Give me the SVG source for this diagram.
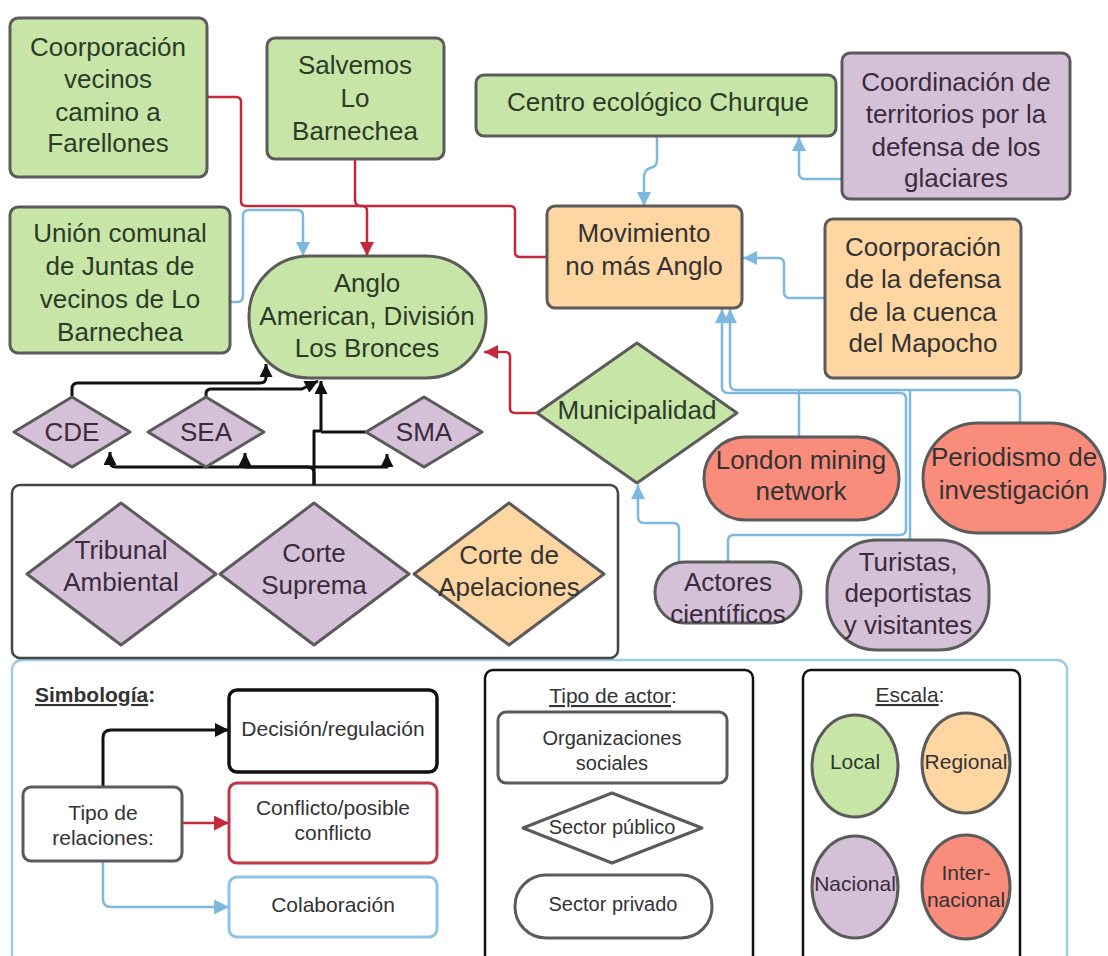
<svg xmlns="http://www.w3.org/2000/svg" width="1108" height="956" viewBox="0 0 1108 956">
<style>
.bg{fill:#ffffff}
.n{stroke:#5b5b5b;stroke-width:3;stroke-linejoin:round}
.g{fill:#c6e5a7}
.o{fill:#fdd6a2}
.p{fill:#d4c0d7}
.r{fill:#f98c7b}
text{font-family:"Liberation Sans",Arial,sans-serif;fill:#333333;text-anchor:middle}
.t{font-size:26px}
.tg{fill:#2c3b28}
.tp{fill:#3a2c3c}
.l{font-size:21px}
.ls{font-size:20px}
.u{text-decoration:underline}
.c{fill:none;stroke-width:2.5;stroke-linejoin:round}
.cr{stroke:#c3283b}
.cb{stroke:#7db9de}
.ck{stroke:#111111;stroke-width:3}
</style>
<defs>
<marker id="ar" viewBox="0 0 10 10" refX="10" refY="5" markerUnits="userSpaceOnUse" markerWidth="19" markerHeight="14" orient="auto"><path d="M0,0 L10,5 L0,10 z" fill="#c3283b"/></marker>
<marker id="ab" viewBox="0 0 10 10" refX="10" refY="5" markerUnits="userSpaceOnUse" markerWidth="19" markerHeight="14" orient="auto"><path d="M0,0 L10,5 L0,10 z" fill="#7db9de"/></marker>
<marker id="ak" viewBox="0 0 10 10" refX="10" refY="5" markerUnits="userSpaceOnUse" markerWidth="18" markerHeight="13" orient="auto"><path d="M0,0 L10,5 L0,10 z" fill="#111111"/></marker>
<marker id="akl" viewBox="0 0 10 10" refX="10" refY="5" markerUnits="userSpaceOnUse" markerWidth="22" markerHeight="14" orient="auto"><path d="M0,0 L10,5 L0,10 z" fill="#111111"/></marker>
<marker id="arl" viewBox="0 0 10 10" refX="10" refY="5" markerUnits="userSpaceOnUse" markerWidth="22" markerHeight="15" orient="auto"><path d="M0,0 L10,5 L0,10 z" fill="#c3283b"/></marker>
<marker id="abl" viewBox="0 0 10 10" refX="10" refY="5" markerUnits="userSpaceOnUse" markerWidth="22" markerHeight="15" orient="auto"><path d="M0,0 L10,5 L0,10 z" fill="#7db9de"/></marker>
</defs>
<rect class="bg" x="0" y="0" width="1108" height="956"/>

<g id="legend-frame">
<rect x="12" y="660" width="1055" height="330" rx="10" fill="#ffffff" stroke="#9ccbe5" stroke-width="2.5"/>
</g>

<g id="tribunales-frame">
<rect x="12" y="485" width="606" height="173" rx="8" fill="#ffffff" stroke="#444444" stroke-width="2.5"/>
</g>

<g id="connectors">
<path class="c cr" d="M207,97 H236 Q241,97 241,102 V201 Q241,206 246,206 H362 Q367,206 367,211 V256" marker-end="url(#ar)"/>
<path class="c cr" d="M355,159 V200 Q355,206 361,206 H367"/>
<path class="c cr" d="M546,257 H520 Q515,257 515,252 V211 Q515,206 510,206 H367"/>
<path class="c cr" d="M537,413 H515 Q510,413 510,408 V357 Q510,352 505,352 H484" marker-end="url(#ar)"/>
<path class="c cb" d="M230,302 H237 Q243,302 243,296 V216 Q243,210 249,210 H297 Q303,210 303,216 V256" marker-end="url(#ab)"/>
<path class="c cb" d="M657,136 V160 Q657,167 650,168 Q644,170 644,177 V206" marker-end="url(#ab)"/>
<path class="c cb" d="M842,179 H805 Q799,179 799,173 V137" marker-end="url(#ab)"/>
<path class="c cb" d="M825,298 H790 Q784,298 784,292 V264 Q784,258 778,258 H743" marker-end="url(#ab)"/>
<path class="c cb" d="M1020,423 V396 Q1020,390 1014,390 H736 Q730,390 730,384 V309" marker-end="url(#ab)"/>
<path class="c cb" d="M799,437 V390"/>
<path class="c cb" d="M910,540 V390"/>
<path class="c cb" d="M728,562 V541 Q728,535 734,535 H900 Q906,535 906,529 V399 Q906,393 900,393 H728 Q722,393 722,387 V309" marker-end="url(#ab)"/>
<path class="c cb" d="M679,562 V529 Q679,523 673,523 H644 Q638,523 638,517 V485" marker-end="url(#ab)"/>
<path class="c ck" d="M72,397 V389 Q72,383 78,383 H260 Q266,383 266,377 V364" marker-end="url(#ak)"/>
<path class="c ck" d="M206,397 V394 Q206,389 211,389 H302 L318,381" marker-end="url(#ak)"/>
<path class="c ck" d="M314,485 V431 H321 V381" marker-end="url(#ak)"/>
<path class="c ck" d="M366,432 H321"/>
<path class="c ck" d="M314,485 V473 Q314,467 308,467 H116 Q110,467 110,461 V452" marker-end="url(#ak)"/>
<path class="c ck" d="M314,467 H245 V453" marker-end="url(#ak)"/>
<path class="c ck" d="M314,467 H387 V454" marker-end="url(#ak)"/>
<path class="c ck" d="M103,787 V738 Q103,730 111,730 H229" marker-end="url(#akl)"/>
<path class="c cr" d="M182,823 H229" marker-end="url(#arl)"/>
<path class="c cb" d="M103,861 V899 Q103,907 111,907 H229" marker-end="url(#abl)"/>
</g>

<g id="n-farellones">
<rect class="n g" x="10" y="18" width="197" height="159" rx="8"/>
<text class="t tg" x="108" y="56">Coorporación</text>
<text class="t tg" x="108" y="88">vecinos</text>
<text class="t tg" x="108" y="121">camino a</text>
<text class="t tg" x="108" y="152">Farellones</text>
</g>
<g id="n-salvemos">
<rect class="n g" x="267" y="38" width="177" height="121" rx="8"/>
<text class="t tg" x="355" y="74">Salvemos</text>
<text class="t tg" x="355" y="107">Lo</text>
<text class="t tg" x="355" y="140">Barnechea</text>
</g>
<g id="n-union">
<rect class="n g" x="10" y="207" width="220" height="146" rx="8"/>
<text class="t tg" x="120" y="242">Unión comunal</text>
<text class="t tg" x="120" y="275">de Juntas de</text>
<text class="t tg" x="120" y="308">vecinos de Lo</text>
<text class="t tg" x="120" y="341">Barnechea</text>
</g>
<g id="n-anglo">
<rect class="n g" x="249" y="256" width="237" height="122" rx="60"/>
<text class="t tg" x="367" y="292">Anglo</text>
<text class="t tg" x="367" y="325">American, División</text>
<text class="t tg" x="367" y="357">Los Bronces</text>
</g>
<g id="n-churque">
<rect class="n g" x="476" y="75" width="360" height="61" rx="8"/>
<text class="t tg" x="658" y="111">Centro ecológico Churque</text>
</g>
<g id="n-glaciares">
<rect class="n p" x="842" y="53" width="228" height="146" rx="8"/>
<text class="t tp" x="956" y="91">Coordinación de</text>
<text class="t tp" x="956" y="123">territorios por la</text>
<text class="t tp" x="956" y="156">defensa de los</text>
<text class="t tp" x="956" y="187">glaciares</text>
</g>
<g id="n-movimiento">
<rect class="n o" x="547" y="206" width="195" height="102" rx="8"/>
<text class="t" x="644" y="242">Movimiento</text>
<text class="t" x="644" y="275">no más Anglo</text>
</g>
<g id="n-mapocho">
<rect class="n o" x="825" y="219" width="196" height="159" rx="8"/>
<text class="t" x="923" y="256">Coorporación</text>
<text class="t" x="923" y="288">de la defensa</text>
<text class="t" x="923" y="321">de la cuenca</text>
<text class="t" x="923" y="352">del Mapocho</text>
</g>
<g id="n-cde">
<polygon class="n p" points="14,432 72,397 130,432 72,467"/>
<text class="t tp" x="72" y="441">CDE</text>
</g>
<g id="n-sea">
<polygon class="n p" points="148,432 206,397 264,432 206,467"/>
<text class="t tp" x="206" y="441">SEA</text>
</g>
<g id="n-sma">
<polygon class="n p" points="366,432 424,397 482,432 424,467"/>
<text class="t tp" x="424" y="441">SMA</text>
</g>
<g id="n-municipalidad">
<polygon class="n g" points="537,413 637,343 737,413 637,483"/>
<text class="t tg" x="637" y="419">Municipalidad</text>
</g>
<g id="n-tribunal">
<polygon class="n p" points="27,574 121,503 216,574 121,645"/>
<text class="t tp" x="121" y="559">Tribunal</text>
<text class="t tp" x="121" y="591">Ambiental</text>
</g>
<g id="n-suprema">
<polygon class="n p" points="220,574 314,503 409,574 314,645"/>
<text class="t tp" x="314" y="562">Corte</text>
<text class="t tp" x="314" y="594">Suprema</text>
</g>
<g id="n-apelaciones">
<polygon class="n o" points="414,574 509,503 604,574 509,645"/>
<text class="t" x="509" y="564">Corte de</text>
<text class="t" x="509" y="596">Apelaciones</text>
</g>
<g id="n-london">
<rect class="n r" x="704" y="437" width="195" height="83" rx="41"/>
<text class="t" x="801" y="469">London mining</text>
<text class="t" x="801" y="500">network</text>
</g>
<g id="n-periodismo">
<rect class="n r" x="923" y="423" width="182" height="110" rx="55"/>
<text class="t" x="1014" y="466">Periodismo de</text>
<text class="t" x="1014" y="499">investigación</text>
</g>
<g id="n-actores">
<rect class="n p" x="655" y="562" width="146" height="61" rx="30"/>
<text class="t tp" x="728" y="591">Actores</text>
<text class="t tp" x="728" y="623">científicos</text>
</g>
<g id="n-turistas">
<rect class="n p" x="827" y="540" width="162" height="110" rx="50"/>
<text class="t tp" x="908" y="571">Turistas,</text>
<text class="t tp" x="908" y="602">deportistas</text>
<text class="t tp" x="908" y="634">y visitantes</text>
</g>

<g id="legend-relaciones">
<text x="35" y="702" style="font-size:21px;font-weight:bold;text-anchor:start"><tspan class="u">Simbología</tspan>:</text>
<rect x="229" y="690" width="208" height="82" rx="8" fill="#ffffff" stroke="#111111" stroke-width="3.5"/>
<text class="l" x="333" y="736">Decisión/regulación</text>
<rect x="229" y="783" width="208" height="80" rx="8" fill="#ffffff" stroke="#c0394b" stroke-width="3"/>
<text class="l" x="333" y="815">Conflicto/posible</text>
<text class="l" x="333" y="840">conflicto</text>
<rect x="229" y="877" width="208" height="60" rx="8" fill="#ffffff" stroke="#8ec5e6" stroke-width="3"/>
<text class="l" x="333" y="912">Colaboración</text>
<rect x="23" y="787" width="159" height="74" rx="8" fill="#ffffff" stroke="#5b5b5b" stroke-width="3"/>
<text class="l" x="103" y="820">Tipo de</text>
<text class="l" x="103" y="845">relaciones:</text>
</g>

<g id="legend-actor">
<rect x="485" y="670" width="268" height="310" rx="8" fill="#ffffff" stroke="#111111" stroke-width="2.5"/>
<text class="l" x="613" y="703"><tspan class="u">Tipo de actor</tspan>:</text>
<rect x="498" y="712" width="229" height="71" rx="8" fill="#ffffff" stroke="#5b5b5b" stroke-width="3"/>
<text class="ls" x="612" y="745">Organizaciones</text>
<text class="ls" x="612" y="770">sociales</text>
<polygon points="523,828 612,793 702,828 612,863" fill="#ffffff" stroke="#5b5b5b" stroke-width="3" stroke-linejoin="round"/>
<text class="ls" x="612" y="834">Sector público</text>
<rect x="515" y="875" width="197" height="63" rx="31" fill="#ffffff" stroke="#5b5b5b" stroke-width="3"/>
<text class="ls" x="613" y="911">Sector privado</text>
</g>

<g id="legend-escala">
<rect x="803" y="670" width="217" height="310" rx="8" fill="#ffffff" stroke="#111111" stroke-width="2.5"/>
<text class="l" x="910" y="702"><tspan class="u">Escala</tspan>:</text>
<ellipse class="n g" cx="855" cy="766" rx="43" ry="51"/>
<text class="l tg" x="855" y="769">Local</text>
<ellipse class="n o" cx="966" cy="763" rx="44" ry="50"/>
<text class="l" x="966" y="769">Regional</text>
<ellipse class="n p" cx="855" cy="887" rx="43" ry="51"/>
<text class="l tp" x="855" y="891">Nacional</text>
<ellipse class="n r" cx="966" cy="887" rx="44" ry="52"/>
<text class="l" x="966" y="880">Inter-</text>
<text class="l" x="966" y="907">nacional</text>
</g>
</svg>
